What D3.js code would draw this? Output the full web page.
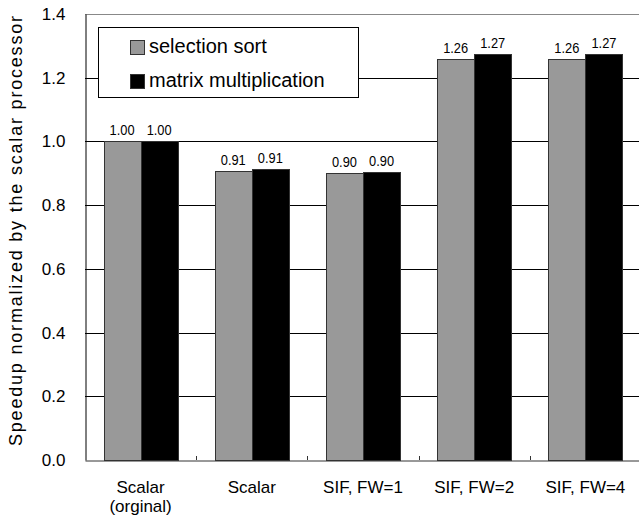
<!DOCTYPE html>
<html><head><meta charset="utf-8">
<script src="https://cdn.jsdelivr.net/npm/d3@7"></script>
<style>body{margin:0;background:#fff}svg{display:block}text{font-family:"Liberation Sans",Arial,sans-serif;fill:#000}</style>
</head><body><svg id="c" width="639" height="516"></svg>
<script>
const categories = [["Scalar","(orginal)"],["Scalar"],["SIF, FW=1"],["SIF, FW=2"],["SIF, FW=4"]];
const seriesNames = ["selection sort","matrix multiplication"];
const selectionSort = [1.00, 0.907, 0.902, 1.259, 1.259];
const matrixMult = [1.00, 0.913, 0.904, 1.274, 1.274];
const yTicks = [0,0.2,0.4,0.6,0.8,1.0,1.2,1.4];
const colors = ["#999999","#000000"];

const svg = d3.select("#c");
const m = {l:85, r:641, t:14, b:460};
const x = d3.scaleBand().domain(d3.range(categories.length)).range([m.l,m.r]).paddingInner(0).paddingOuter(0);
const x1 = d3.scaleBand().domain([0,1]).range([0,x.bandwidth()]).paddingOuter(0.5).paddingInner(0);
const y = d3.scaleLinear().domain([0,1.4]).range([m.b,m.t]);

// gridlines
svg.append("g").selectAll("line").data(yTicks.filter(d=>d>0 && d<1.4)).join("line")
  .attr("x1",m.l).attr("x2",m.r).attr("y1",d=>Math.round(y(d))+0.5).attr("y2",d=>Math.round(y(d))+0.5)
  .attr("stroke","#000").attr("stroke-width",1);
// top border
svg.append("line").attr("x1",m.l).attr("x2",m.r).attr("y1",y(1.4)+0.5).attr("y2",y(1.4)+0.5).attr("stroke","#888");

// bars
const series = [selectionSort, matrixMult];
series.forEach((vals,si)=>{
  svg.append("g").selectAll("rect").data(vals).join("rect")
    .attr("x",(d,i)=>Math.round(x(i)+x1(si))+0.5).attr("width",Math.round(x1.bandwidth()))
    .attr("y",d=>Math.round(y(d))+0.5).attr("height",d=>Math.round(y(0))-Math.round(y(d)))
    .attr("fill",colors[si]).attr("stroke","#333").attr("stroke-width",1);
  svg.append("g").selectAll("text").data(vals).join("text")
    .attr("x",(d,i)=>x(i)+x1(si)+x1.bandwidth()/2).attr("y",d=>y(d)-6)
    .attr("text-anchor","middle").attr("font-size",15)
    .attr("textLength",25).attr("lengthAdjust","spacingAndGlyphs")
    .text(d=>d3.format(".2f")(d));
});

// y axis
const ya = d3.axisLeft(y).tickValues(yTicks).tickFormat(d3.format(".1f")).tickSize(0).tickPadding(20);
const gy = svg.append("g").attr("transform",`translate(${m.l+0.5},0)`).call(ya);
gy.select(".domain").attr("stroke","#000");
gy.selectAll("text").attr("font-size",17).attr("font-family",'"Liberation Sans",Arial,sans-serif');

// x axis
const xa = d3.axisBottom(x).tickSize(0).tickFormat("");
const gx = svg.append("g").attr("transform",`translate(0,${m.b+0.5})`).call(xa);
gx.select(".domain").attr("stroke","#333");
// inward small ticks at band boundaries
svg.append("g").selectAll("line").data(d3.range(1,categories.length)).join("line")
  .attr("x1",i=>Math.round(x(i))+0.5).attr("x2",i=>Math.round(x(i))+0.5).attr("y1",m.b-4).attr("y2",m.b).attr("stroke","#333");

// category labels
const cl = svg.append("g").selectAll("text").data(categories).join("text")
  .attr("x",(d,i)=>x(i)+x.bandwidth()/2).attr("y",493)
  .attr("text-anchor","middle").attr("font-size",17);
cl.selectAll("tspan").data(d=>d).join("tspan")
  .attr("x",function(){return this.parentNode.getAttribute("x");})
  .attr("dy",(d,j)=>j===0?0:19).text(d=>d);

// y label
svg.append("text").attr("transform","translate(22,231) rotate(-90)")
  .attr("text-anchor","middle").attr("font-size",18)
  .attr("textLength",430).attr("lengthAdjust","spacing")
  .text("Speedup normalized by the scalar processor");

// legend
const lg = svg.append("g");
lg.append("rect").attr("x",98.5).attr("y",27.5).attr("width",260).attr("height",70)
  .attr("fill","#fff").attr("stroke","#000");
seriesNames.forEach((n,i)=>{
  lg.append("rect").attr("x",130.5).attr("y",40.5+i*34).attr("width",14).attr("height",14)
    .attr("fill",colors[i]).attr("stroke","#333");
  lg.append("text").attr("x",149).attr("y",53+i*34).attr("font-size",20).text(n);
});
</script></body></html>
